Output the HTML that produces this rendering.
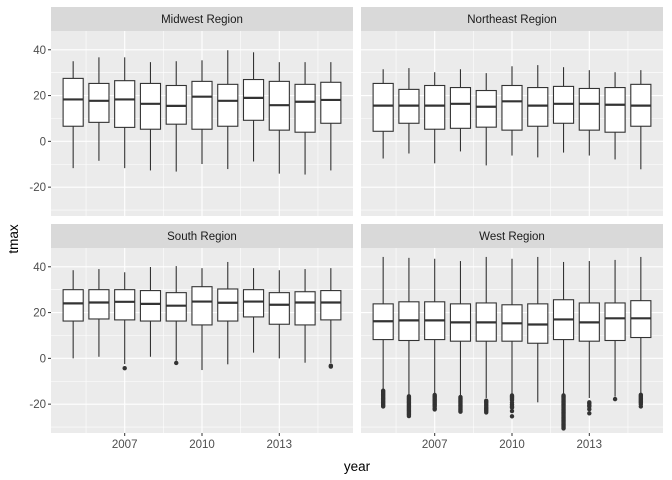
<!DOCTYPE html>
<html><head><meta charset="utf-8"><style>
body{margin:0;background:#fff;}
svg{display:block;font-family:"Liberation Sans",Arial,sans-serif;}
</style></head><body>
<svg id="chart" width="672" height="480"></svg>
<script>
const years=[2005,2006,2007,2008,2009,2010,2011,2012,2013,2014,2015];
const regions=["Midwest Region","Northeast Region","South Region","West Region"];
const yTicks=[40,20,0,-20];
const xTicks=[2007,2010,2013];
// [whiskerHigh, q3, median, q1, whiskerLow]
const midwest=[[35,27.5,18.3,6.6,-11.7],[36.7,25.3,17.7,8.3,-8.5],[36.7,26.5,18.3,6.1,-11.7],[34.6,25.3,16.4,5.3,-12.7],[35,24.4,15.5,7.5,-13.2],[35.4,26.2,19.5,5.3,-9.9],[39.8,24.9,17.7,6.6,-12.1],[38.9,27,19,9.2,-8.8],[34.6,26.2,15.8,4.9,-14.1],[34.6,24.9,17.3,4,-14.5],[34.6,25.8,18.1,7.9,-12.7]];
const northeast=[[31.5,25.3,15.6,4.4,-7.5],[32,22.7,15.6,7.9,-5.3],[30.2,24.4,15.6,5.3,-9.6],[31.5,23.5,16.4,5.7,-4.4],[29.8,22.2,15.1,6.2,-10.5],[32.8,24.4,17.5,4.9,-6.2],[33.3,23.5,15.6,6.6,-7],[32.4,24,16.4,7.9,-4.9],[31.1,23.1,16.4,4.9,-6.2],[30.2,23.5,16,4,-7.9],[31.1,24.9,15.6,6.6,-12.2]];
const south=[[38.5,30,24,16.3,0],[39,30,24.4,17.2,0.7],[37.6,30,24.7,16.8,-2.5],[39.9,29.6,23.8,16.3,0.7],[40.3,28.7,23,16.3,-1],[39.4,31.3,24.8,14.6,-5.1],[42.1,30.3,24.3,16.3,-2.6],[39.4,30,24.8,18.1,2.5],[38.5,28.7,23.4,14.9,0],[39,29.1,24.4,14.6,-1.9],[39.4,29.6,24.4,16.8,-2]];
const west=[[44.3,23.8,16.2,8.2,-13.7],[43.9,24.7,16.6,7.8,-16.6],[43.5,24.7,16.6,8.2,-16],[42.5,23.8,15.7,7.5,-16.9],[44.3,24.2,15.7,7.5,-17.3],[43.5,23.4,15.3,7.5,-16.2],[44.3,23.8,14.8,6.6,-19.2],[42.1,25.6,17,8.2,-16.2],[42.5,24.2,15.7,7.5,-17.3],[43,24.2,17.5,7.8,-16.7],[44.3,25.2,17.5,9.1,-15.6]];
const southOut=[[],[],[-4.3],[],[-2],[],[],[],[],[],[-3.2,-3.6]];
const westOut=[
[-14.1,-14.6,-15.1,-15.6,-16.1,-16.6,-17.1,-17.6,-18.1,-18.6,-19.1,-19.6,-20.1,-20.6,-21],
[-16.6,-17.1,-17.6,-18.1,-18.6,-19.1,-19.6,-20.1,-20.6,-21.1,-21.6,-22.1,-22.6,-23.1,-23.6,-24.1,-24.6,-25.2],
[-16,-16.5,-17,-17.5,-18,-18.5,-19,-19.5,-20,-20.5,-21,-21.8,-22.3],
[-16.9,-17.4,-17.9,-18.4,-18.9,-19.4,-19.9,-20.4,-20.9,-21.4,-21.9,-22.4,-22.9,-23.3],
[-18.5,-19,-19.5,-20.2,-20.8,-21.5,-22,-22.5,-23,-23.6],
[-16.2,-16.7,-17.2,-17.7,-18.2,-19.3,-20.2,-21,-21.5,-23,-25.3],
[],
[-16.2,-16.7,-17.2,-17.7,-18.2,-18.7,-19.2,-19.7,-20.2,-20.7,-21.2,-21.7,-22.2,-22.7,-23.2,-23.7,-24.2,-24.7,-25.2,-25.7,-26.2,-26.7,-27.2,-27.7,-28.2,-28.7,-29.2,-29.7,-30.2,-30.6],
[-19.2,-19.7,-20.5,-21,-22.2,-24],
[-17.8],
[-15.9,-16.4,-16.9,-17.4,-17.9,-18.4,-18.9,-19.4,-20,-21]];
const panelData=[midwest,northeast,south,west];
const panelOut=[[],[],southOut,westOut];

const NS="http://www.w3.org/2000/svg";
const svg=document.getElementById('chart');
function mk(tag,attrs,parent){const e=document.createElementNS(NS,tag);for(const k in attrs)e.setAttribute(k,attrs[k]);(parent||svg).appendChild(e);return e;}
const panels=[{x:51,y:31},{x:361,y:31},{x:51,y:248},{x:361,y:248}];
const PW=302,PH=185,ymin=-32.6,ymax=48.2,xmin=2004.14,xmax=2015.86;
panels.forEach((p,i)=>{
  const sx=v=>p.x+(v-xmin)/(xmax-xmin)*PW;
  const sy=v=>p.y+(ymax-v)/(ymax-ymin)*PH;
  const g=mk('g',{});
  
  
  const strip=mk('rect',{x:p.x,y:p.y-24,width:PW,height:24,fill:'#d9d9d9'},g);
  
  
  const st=mk('text',{x:p.x+PW/2,y:p.y-8,'text-anchor':'middle','font-size':'11.5',fill:'#1a1a1a'},g);
  st.textContent=regions[i];
  
  
  const bg=mk('rect',{x:p.x,y:p.y,width:PW,height:PH,fill:'#ebebeb'},g);
  
  
  [30,10,-10,-30].forEach(v=>mk('line',{x1:p.x,x2:p.x+PW,y1:sy(v),y2:sy(v),stroke:'#fff','stroke-width':0.55},g));
  [2005.5,2008.5,2011.5,2014.5].forEach(v=>mk('line',{x1:sx(v),x2:sx(v),y1:p.y,y2:p.y+PH,stroke:'#fff','stroke-width':0.55},g));
  yTicks.forEach(v=>mk('line',{x1:p.x,x2:p.x+PW,y1:sy(v),y2:sy(v),stroke:'#fff','stroke-width':1.1},g));
  xTicks.forEach(v=>mk('line',{x1:sx(v),x2:sx(v),y1:p.y,y2:p.y+PH,stroke:'#fff','stroke-width':1.1},g));
  if(i%2===0){yTicks.forEach(v=>{
    mk('line',{x1:p.x-3,x2:p.x,y1:sy(v),y2:sy(v),stroke:'#333','stroke-width':1},g);
    const t=mk('text',{x:p.x-5,y:sy(v)+4,'text-anchor':'end','font-size':'11.5',fill:'#4d4d4d'},g);
    t.textContent=v;
    
    
  });}
  if(i>=2){xTicks.forEach(v=>{
    mk('line',{x1:sx(v),x2:sx(v),y1:p.y+PH,y2:p.y+PH+3,stroke:'#333','stroke-width':1},g);
    const t=mk('text',{x:sx(v),y:p.y+PH+15,'text-anchor':'middle','font-size':'11.5',fill:'#4d4d4d'},g);
    t.textContent=v;
    
    
  });}
  const bw=0.78*(PW/(xmax-xmin));
  panelData[i].forEach((d,j)=>{
    const cx=sx(years[j]);
    const bx=mk('g',{},g);
    
    
    mk('line',{x1:cx,x2:cx,y1:sy(d[0]),y2:sy(d[1]),stroke:'#333','stroke-width':1.1},bx);
    mk('line',{x1:cx,x2:cx,y1:sy(d[3]),y2:sy(d[4]),stroke:'#333','stroke-width':1.1},bx);
    mk('rect',{x:cx-bw/2,y:sy(d[1]),width:bw,height:sy(d[3])-sy(d[1]),fill:'#fff',stroke:'#333','stroke-width':1.1},bx);
    mk('line',{x1:cx-bw/2,x2:cx+bw/2,y1:sy(d[2]),y2:sy(d[2]),stroke:'#333','stroke-width':2.2},bx);
    const outs=panelOut[i][j]||[];
    outs.forEach(o=>mk('circle',{cx:cx,cy:sy(o),r:2.2,fill:'#333'},bx));
  });
});
const yl=mk('text',{x:0,y:0,transform:'translate(18,239) rotate(-90)','text-anchor':'middle','font-size':'13.5',fill:'#000'});
yl.textContent='tmax';


const xl=mk('text',{x:357,y:471,'text-anchor':'middle','font-size':'13.5',fill:'#000'});
xl.textContent='year';


</script>
</body></html>
